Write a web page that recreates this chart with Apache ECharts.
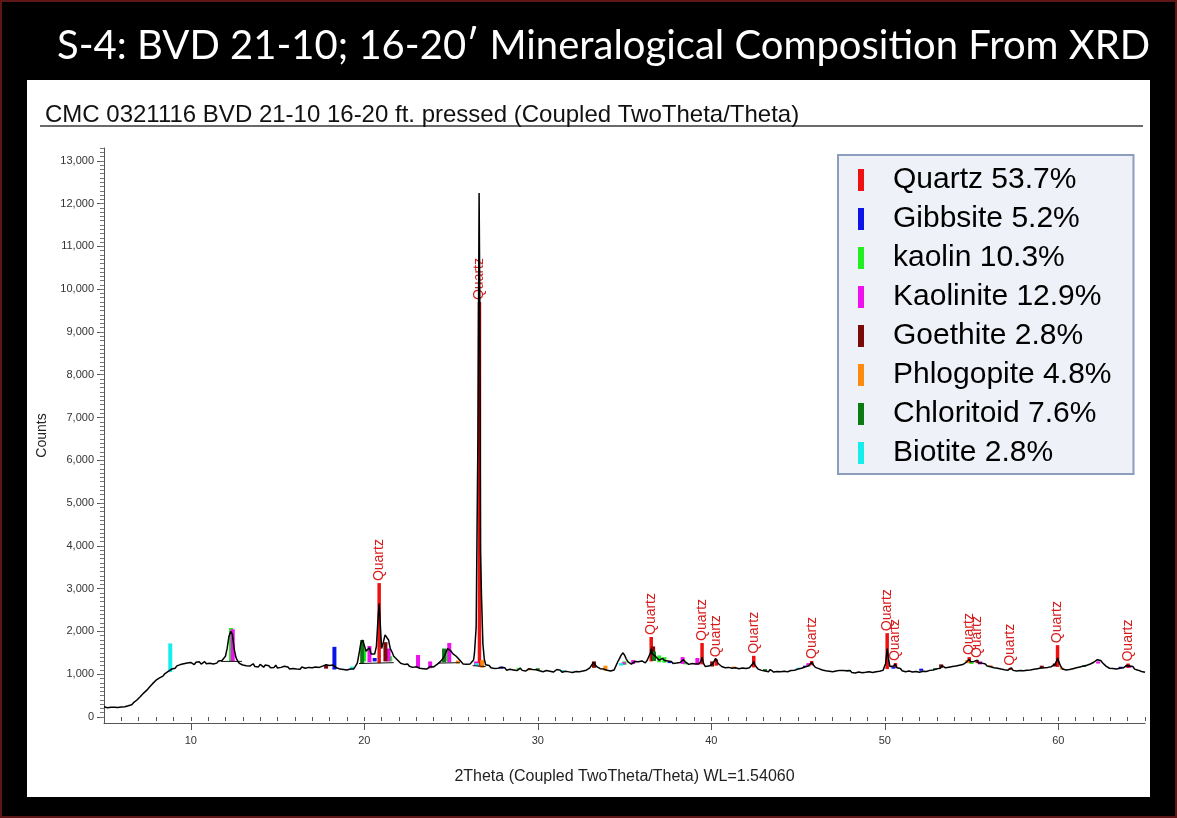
<!DOCTYPE html>
<html>
<head>
<meta charset="utf-8">
<script src="https://cdn.jsdelivr.net/npm/echarts@6/dist/echarts.min.js"></script>
<style>
  html, body { margin: 0; padding: 0; background: #000; }
  #chart { width: 1177px; height: 818px; }
</style>
</head>
<body>
<div id="chart"></div>
<script>
// Measured diffraction pattern: [2Theta (deg), counts]
const pattern = [
  [5.0,240],[5.1,232],[5.2,218],[5.3,236],[5.4,226],[5.5,212],[5.6,228],[5.7,208],[5.8,224],[5.9,215],
  [6.0,232],[6.1,246],[6.2,238],[6.3,270],[6.4,262],[6.5,298],[6.6,288],[6.7,335],[6.8,352],[6.9,398],
  [7.0,420],[7.1,478],[7.2,502],[7.3,565],[7.4,598],[7.5,640],[7.6,690],[7.7,712],[7.8,780],[7.9,805],
  [8.0,860],[8.1,880],[8.2,915],[8.3,960],[8.4,955],[8.5,1010],[8.6,1030],[8.7,1065],[8.8,1090],[8.9,1120],
  [9.0,1155],[9.1,1140],[9.2,1195],[9.3,1170],[9.4,1225],[9.5,1200],[9.6,1245],[9.7,1210],[9.8,1260],[9.9,1230],
  [10.0,1275],[10.1,1240],[10.2,1225],[10.3,1280],[10.4,1250],[10.5,1290],[10.6,1235],[10.7,1270],[10.8,1295],[10.9,1245],
  [11.0,1280],[11.1,1255],[11.2,1300],[11.3,1240],[11.4,1285],[11.5,1260],[11.6,1310],[11.7,1270],[11.8,1320],[11.9,1345],
  [12.0,1420],[12.1,1610],[12.2,1880],[12.3,2000],[12.4,1930],[12.5,1600],[12.6,1400],[12.7,1310],[12.8,1255],[12.9,1280],
  [13.0,1215],[13.1,1250],[13.2,1200],[13.3,1235],[13.4,1190],[13.5,1225],[13.6,1245],[13.7,1180],[13.8,1210],[13.9,1170],
  [14.0,1230],[14.1,1185],[14.2,1165],[14.3,1215],[14.4,1175],[14.5,1200],[14.6,1150],[14.7,1195],[14.8,1160],[14.9,1210],
  [15.0,1145],[15.1,1180],[15.2,1160],[15.3,1130],[15.4,1185],[15.5,1140],[15.6,1170],[15.7,1120],[15.8,1165],[15.9,1135],
  [16.0,1175],[16.1,1120],[16.2,1150],[16.3,1115],[16.4,1170],[16.5,1125],[16.6,1140],[16.7,1105],[16.8,1160],[16.9,1130],
  [17.0,1150],[17.1,1115],[17.2,1170],[17.3,1135],[17.4,1160],[17.5,1145],[17.6,1190],[17.7,1170],[17.8,1220],[17.9,1180],
  [18.0,1205],[18.1,1165],[18.2,1215],[18.3,1180],[18.4,1150],[18.5,1170],[18.6,1120],[18.7,1155],[18.8,1110],[18.9,1145],
  [19.0,1100],[19.1,1135],[19.2,1120],[19.3,1150],[19.4,1125],[19.5,1170],[19.6,1260],[19.7,1480],[19.8,1720],[19.9,1800],
  [20.0,1680],[20.1,1540],[20.2,1580],[20.3,1620],[20.4,1470],[20.5,1430],[20.6,1470],[20.7,1650],[20.8,2350],[20.86,2650],
  [20.92,2200],[21.0,1600],[21.1,1750],[21.2,1920],[21.3,1950],[21.4,1800],[21.5,1600],[21.6,1520],[21.7,1420],[21.8,1380],
  [21.9,1340],[22.0,1300],[22.1,1255],[22.2,1285],[22.3,1230],[22.4,1215],[22.5,1240],[22.6,1185],[22.7,1210],[22.8,1160],
  [22.9,1195],[23.0,1175],[23.1,1200],[23.2,1140],[23.3,1160],[23.4,1130],[23.5,1175],[23.6,1120],[23.7,1150],[23.8,1180],
  [23.9,1145],[24.0,1170],[24.1,1200],[24.2,1230],[24.3,1270],[24.4,1300],[24.5,1350],[24.6,1410],[24.7,1500],[24.8,1600],
  [24.9,1620],[25.0,1540],[25.1,1480],[25.2,1450],[25.3,1420],[25.4,1390],[25.5,1330],[25.6,1290],[25.7,1240],[25.8,1210],
  [25.9,1235],[26.0,1200],[26.1,1240],[26.2,1265],[26.3,1330],[26.35,1480],[26.45,2100],[26.55,6500],[26.62,12250],[26.66,9800],
  [26.7,3900],[26.76,2800],[26.84,1700],[26.92,1350],[27.0,1220],[27.1,1180],[27.2,1205],[27.3,1150],[27.4,1185],[27.5,1135],
  [27.6,1170],[27.7,1140],[27.8,1110],[27.9,1160],[28.0,1125],[28.1,1150],[28.2,1095],[28.3,1140],[28.4,1115],[28.5,1160],
  [28.6,1100],[28.7,1130],[28.8,1085],[28.9,1125],[29.0,1140],[29.1,1090],[29.2,1120],[29.3,1075],[29.4,1115],[29.5,1130],
  [29.6,1085],[29.7,1110],[29.8,1065],[29.9,1105],[30.0,1125],[30.1,1080],[30.2,1110],[30.3,1060],[30.4,1100],[30.5,1085],
  [30.6,1120],[30.7,1070],[30.8,1095],[30.9,1050],[31.0,1090],[31.1,1110],[31.2,1065],[31.3,1095],[31.4,1045],[31.5,1085],
  [31.6,1070],[31.7,1100],[31.8,1055],[31.9,1080],[32.0,1040],[32.1,1085],[32.2,1065],[32.3,1100],[32.4,1060],[32.5,1090],
  [32.6,1075],[32.7,1105],[32.8,1095],[32.9,1130],[33.0,1150],[33.1,1190],[33.2,1270],[33.3,1240],[33.4,1180],[33.5,1150],
  [33.6,1130],[33.7,1105],[33.8,1120],[33.9,1080],[34.0,1095],[34.1,1060],[34.2,1075],[34.3,1040],[34.4,1100],[34.5,1190],
  [34.6,1280],[34.7,1360],[34.8,1440],[34.9,1500],[35.0,1450],[35.1,1360],[35.2,1290],[35.3,1250],[35.4,1235],[35.5,1280],
  [35.6,1300],[35.7,1260],[35.8,1290],[35.9,1250],[36.0,1310],[36.1,1280],[36.2,1265],[36.3,1320],[36.4,1340],[36.5,1500],
  [36.54,1600],[36.6,1480],[36.7,1450],[36.8,1410],[36.9,1380],[37.0,1330],[37.1,1360],[37.2,1370],[37.3,1320],[37.4,1290],
  [37.5,1310],[37.6,1270],[37.7,1300],[37.8,1250],[37.9,1280],[38.0,1260],[38.1,1230],[38.2,1275],[38.3,1300],[38.4,1340],
  [38.5,1290],[38.6,1250],[38.7,1230],[38.8,1205],[38.9,1250],[39.0,1220],[39.1,1240],[39.2,1195],[39.3,1245],[39.4,1300],
  [39.47,1400],[39.55,1260],[39.65,1180],[39.75,1150],[39.85,1190],[39.95,1170],[40.05,1230],[40.15,1290],[40.25,1370],[40.3,1380],
  [40.4,1250],[40.5,1215],[40.6,1180],[40.7,1200],[40.8,1150],[40.9,1185],[41.0,1160],[41.1,1195],[41.2,1140],[41.3,1175],
  [41.4,1150],[41.5,1185],[41.6,1130],[41.7,1160],[41.8,1145],[41.9,1180],[42.0,1135],[42.1,1170],[42.2,1150],[42.3,1185],
  [42.4,1250],[42.45,1300],[42.5,1230],[42.6,1170],[42.7,1120],[42.8,1140],[42.9,1090],[43.0,1120],[43.1,1075],[43.2,1105],
  [43.3,1060],[43.4,1110],[43.5,1085],[43.6,1050],[43.7,1095],[43.8,1065],[43.9,1100],[44.0,1060],[44.1,1090],[44.2,1070],
  [44.3,1105],[44.4,1060],[44.5,1100],[44.6,1085],[44.7,1120],[44.8,1095],[44.9,1135],[45.0,1120],[45.1,1160],[45.2,1140],
  [45.3,1180],[45.4,1170],[45.5,1205],[45.6,1195],[45.7,1230],[45.79,1280],[45.9,1210],[46.0,1160],[46.1,1180],[46.2,1130],
  [46.3,1150],[46.4,1100],[46.5,1125],[46.6,1080],[46.7,1115],[46.8,1070],[46.9,1100],[47.0,1060],[47.1,1095],[47.2,1075],
  [47.3,1040],[47.4,1090],[47.5,1060],[47.6,1085],[47.7,1045],[47.8,1080],[47.9,1055],[48.0,1090],[48.1,1040],[48.2,1075],
  [48.3,1030],[48.4,1070],[48.5,1050],[48.6,1085],[48.7,1035],[48.8,1075],[48.9,1045],[49.0,1080],[49.1,1060],[49.2,1095],
  [49.3,1040],[49.4,1085],[49.5,1060],[49.6,1100],[49.7,1070],[49.8,1110],[49.9,1090],[50.0,1130],[50.05,1250],[50.14,1600],
  [50.22,1350],[50.3,1180],[50.4,1140],[50.5,1190],[50.6,1240],[50.7,1150],[50.8,1110],[50.9,1135],[51.0,1080],[51.1,1120],
  [51.2,1060],[51.3,1100],[51.4,1075],[51.5,1110],[51.6,1050],[51.7,1090],[51.8,1065],[51.9,1100],[52.0,1045],[52.1,1085],
  [52.2,1070],[52.3,1105],[52.4,1065],[52.5,1100],[52.6,1090],[52.7,1130],[52.8,1100],[52.9,1140],[53.0,1125],[53.1,1160],
  [53.2,1140],[53.3,1200],[53.4,1180],[53.5,1150],[53.6,1185],[53.7,1165],[53.8,1200],[53.9,1180],[54.0,1215],[54.1,1190],
  [54.2,1230],[54.3,1210],[54.4,1245],[54.5,1225],[54.6,1265],[54.7,1280],[54.8,1320],[54.87,1350],[54.95,1290],[55.05,1270],
  [55.15,1300],[55.25,1320],[55.33,1330],[55.4,1260],[55.5,1240],[55.6,1260],[55.7,1215],[55.8,1240],[55.9,1190],[56.0,1220],
  [56.1,1175],[56.2,1200],[56.3,1150],[56.4,1180],[56.5,1140],[56.6,1170],[56.7,1120],[56.8,1150],[56.9,1105],[57.0,1135],
  [57.1,1095],[57.2,1130],[57.3,1150],[57.4,1090],[57.5,1115],[57.6,1075],[57.7,1110],[57.8,1085],[57.9,1120],[58.0,1080],
  [58.1,1110],[58.2,1095],[58.3,1130],[58.4,1100],[58.5,1140],[58.6,1115],[58.7,1150],[58.8,1130],[58.9,1170],[59.0,1145],
  [59.1,1175],[59.2,1150],[59.3,1185],[59.4,1160],[59.5,1195],[59.6,1175],[59.7,1210],[59.8,1230],[59.9,1300],[59.96,1380],
  [60.05,1270],[60.15,1180],[60.25,1120],[60.35,1080],[60.45,1100],[60.55,1070],[60.65,1110],[60.75,1090],[60.85,1130],[60.95,1110],
  [61.05,1150],[61.15,1135],[61.25,1170],[61.35,1150],[61.45,1190],[61.55,1170],[61.65,1210],[61.75,1200],[61.85,1240],[61.95,1250],
  [62.05,1280],[62.15,1310],[62.25,1340],[62.35,1370],[62.45,1320],[62.55,1270],[62.65,1230],[62.75,1190],[62.85,1160],[62.95,1140],
  [63.05,1170],[63.15,1135],[63.25,1160],[63.35,1120],[63.45,1165],[63.55,1140],[63.65,1175],[63.75,1150],[63.85,1190],[63.95,1210],
  [64.03,1240],[64.1,1190],[64.2,1160],[64.3,1180],[64.4,1120],[64.5,1140],[64.6,1095],[64.7,1110],[64.8,1065],[64.9,1080],
  [65.0,1045]
];

// Fitted background segments under the main reflections: [x1, y1, x2, y2]
const backgroundSegments = [
  [11.75, 1300, 12.95, 1300],
  [19.7, 1250, 21.7, 1270],
  [24.3, 1260, 25.5, 1270],
  [26.25, 1200, 27.0, 1180]
];

// Reference sticks per phase: [2Theta, stick base, stick top]
const quartzSticks = [
  [20.86,1260,3130],[26.64,1180,9700],[36.54,1300,1870],[39.47,1230,1730],[40.29,1200,1350],
  [42.45,1160,1430],[45.79,1210,1310],[50.14,1120,1960],[50.62,1150,1260],[54.87,1260,1400],
  [55.33,1260,1330],[57.24,1100,1150],[59.96,1170,1680],[64.03,1150,1250]
];
const gibbsiteSticks = [
  [18.28,1110,1640],[20.6,1300,1380],[27.9,1130,1180],[37.6,1260,1300],[45.4,1170,1200],
  [50.5,1130,1180],[52.1,1080,1130],[63.6,1140,1175]
];
const kaolinSticks = [
  [12.32,1300,2080],[20.0,1300,1600],[21.5,1300,1420],[24.7,1300,1560],[28.9,1110,1150],
  [35.0,1220,1300],[37.0,1280,1440],[37.3,1270,1400],[38.5,1230,1290],[45.6,1180,1230],[55.0,1240,1280]
];
const kaoliniteSticks = [
  [12.42,1300,2050],[20.3,1280,1660],[21.4,1300,1600],[23.1,1150,1450],[23.8,1140,1300],
  [24.9,1280,1730],[26.45,1200,1300],[34.95,1230,1280],[35.5,1240,1330],[38.35,1240,1400],
  [39.2,1220,1380],[45.6,1190,1260],[55.5,1230,1300],[62.3,1250,1300],[64.1,1150,1200]
];
const goethiteSticks = [
  [17.8,1130,1210],[21.22,1300,1750],[33.24,1150,1300],[36.65,1320,1650],[40.05,1180,1300],
  [53.25,1150,1230],[59.05,1140,1200],[59.8,1180,1250],[64.0,1160,1220]
];
const phlogopiteSticks = [
  [25.4,1250,1320],[26.8,1150,1330],[29.5,1090,1130],[33.9,1080,1200],[41.3,1140,1180],
  [54.75,1260,1330],[56.1,1180,1210],[60.2,1110,1150]
];
const chloritoidSticks = [
  [19.88,1250,1800],[24.6,1280,1600],[30.0,1100,1140],[36.7,1310,1530],[43.1,1080,1120],
  [47.9,1060,1100],[52.9,1100,1140],[61.5,1170,1200]
];
const biotiteSticks = [
  [8.82,1050,1720],[19.3,1110,1180],[26.5,1190,1260],[31.4,1060,1100],[34.8,1200,1260],[45.0,1120,1150]
];

const phaseNames = [
  'Quartz 53.7%', 'Gibbsite 5.2%', 'kaolin 10.3%', 'Kaolinite 12.9%',
  'Goethite 2.8%', 'Phlogopite 4.8%', 'Chloritoid 7.6%', 'Biotite 2.8%'
];
const phaseSticks = [
  quartzSticks, gibbsiteSticks, kaolinSticks, kaoliniteSticks,
  goethiteSticks, phlogopiteSticks, chloritoidSticks, biotiteSticks
];
const phaseColors = ['#ee1111', '#0a14e6', '#22ee22', '#ee11ee', '#7a0a0a', '#ff8a10', '#0a7a12', '#16eeee'];
const peakLabel = 'Quartz';

const yTickLabels = [0,1000,2000,3000,4000,5000,6000,7000,8000,9000,10000,11000,12000,13000];
const xTickLabels = [10, 20, 30, 40, 50, 60];

// Minor tick positions
const yMinorTicks = [];
for (let v = 0; v <= 13300; v += 100) yMinorTicks.push(v);
const xMinorTicks = [];
for (let v = 5; v <= 65; v += 1) xMinorTicks.push(v);

const FONT = '"Liberation Sans", Arial, sans-serif';
const Y_MIN = -140, Y_MAX = 13300, X_MIN = 5, X_MAX = 65;

function stickRenderer(color, width, label) {
  return function (params, api) {
    const x = api.value(0);
    const p0 = api.coord([x, api.value(1)]);
    const p1 = api.coord([x, api.value(2)]);
    const children = [{
      type: 'rect',
      shape: { x: p0[0] - width / 2, y: p1[1], width: width, height: p0[1] - p1[1] },
      style: { fill: color }
    }];
    if (label) {
      children.push({
        type: 'text',
        x: p0[0], y: p1[1] - 2,
        rotation: Math.PI / 2,
        style: { text: label, fill: '#d81c1c', font: '14px ' + FONT, align: 'left', verticalAlign: 'middle' }
      });
    }
    return { type: 'group', children: children };
  };
}

const stickSeries = phaseNames.map(function (name, i) {
  return {
    name: name,
    type: 'custom',
    xAxisIndex: 0, yAxisIndex: 0,
    z: 2,
    itemStyle: { color: phaseColors[i] },
    renderItem: stickRenderer(phaseColors[i], i === 0 ? 3.5 : 4, i === 0 ? peakLabel : null),
    data: phaseSticks[i]
  };
});

const chart = echarts.init(document.getElementById('chart'));
chart.setOption({
  animation: false,
  backgroundColor: '#000',
  title: [
    {
      text: 'S-4: BVD 21-10; 16-20\u2032 Mineralogical Composition From XRD',
      left: 52, top: 21,
      textStyle: { color: '#fff', fontSize: 40, fontWeight: 'normal', fontFamily: 'Lato, sans-serif' }
    },
    {
      text: 'CMC 0321116 BVD 21-10 16-20 ft. pressed (Coupled TwoTheta/Theta)',
      left: 40, top: 98,
      textStyle: { color: '#111', fontSize: 24, fontWeight: 'normal', fontFamily: FONT }
    }
  ],
  graphic: [
    { type: 'rect', z: -100, shape: { x: 1, y: 1, width: 1175, height: 816 },
      style: { fill: 'none', stroke: '#5e1616', lineWidth: 2 } },
    { type: 'rect', z: -100, shape: { x: 27, y: 80, width: 1123, height: 717 }, style: { fill: '#fff' } },
    { type: 'line', z: -90, shape: { x1: 40, y1: 126, x2: 1143, y2: 126 }, style: { stroke: '#6a6a6a', lineWidth: 2 } }
  ],
  legend: {
    orient: 'vertical',
    left: 838, top: 155,
    data: phaseNames,
    selectedMode: false,
    icon: 'rect',
    itemWidth: 6, itemHeight: 22, itemGap: 9,
    backgroundColor: '#eef1f7',
    borderColor: '#8d9dbd', borderWidth: 2,
    padding: [10, 22, 6, 20],
    textStyle: { fontSize: 30, lineHeight: 30, color: '#000', fontFamily: FONT, padding: [0, 0, 0, 24] }
  },
  grid: { left: 104, right: 32, top: 148, bottom: 95 },
  xAxis: [
    {
      type: 'value', min: X_MIN, max: X_MAX, position: 'bottom',
      name: '2Theta (Coupled TwoTheta/Theta) WL=1.54060',
      nameLocation: 'middle', nameGap: 46,
      nameTextStyle: { fontSize: 16, color: '#222', fontFamily: FONT },
      axisLine: { show: true, onZero: false, lineStyle: { color: '#555', width: 1 } },
      axisTick: { show: true, customValues: xTickLabels, length: 7, lineStyle: { color: '#555' } },
      axisLabel: { customValues: xTickLabels, fontSize: 11, color: '#333', fontFamily: FONT, margin: 12 },
      splitLine: { show: false }
    },
    {
      type: 'value', min: X_MIN, max: X_MAX, position: 'bottom', offset: 0,
      axisLine: { show: false },
      axisTick: { show: true, customValues: xMinorTicks, length: 4, lineStyle: { color: '#555' } },
      axisLabel: { show: false },
      splitLine: { show: false }
    }
  ],
  yAxis: [
    {
      type: 'value', min: Y_MIN, max: Y_MAX, position: 'left', offset: 0,
      name: 'Counts', nameLocation: 'middle', nameGap: 40, nameRotate: 90,
      nameTextStyle: { fontSize: 14, color: '#222', fontFamily: FONT },
      axisLine: { show: true, onZero: false, lineStyle: { color: '#555', width: 1 } },
      axisTick: { show: true, customValues: yTickLabels, length: 7, lineStyle: { color: '#555' } },
      axisLabel: {
        customValues: yTickLabels, fontSize: 11, color: '#333', fontFamily: FONT, margin: 10,
        formatter: function (v) { return v.toLocaleString('en-US'); }
      },
      splitLine: { show: false }
    },
    {
      type: 'value', min: Y_MIN, max: Y_MAX, position: 'left', offset: 0,
      axisLine: { show: false },
      axisTick: { show: true, customValues: yMinorTicks, length: 4, lineStyle: { color: '#777' } },
      axisLabel: { show: false },
      splitLine: { show: false }
    }
  ],
  series: stickSeries.concat([
    {
      name: 'background',
      type: 'custom',
      z: 3,
      renderItem: function (params, api) {
        const a = api.coord([api.value(0), api.value(1)]);
        const b = api.coord([api.value(2), api.value(3)]);
        return { type: 'line', shape: { x1: a[0], y1: a[1], x2: b[0], y2: b[1] }, style: { stroke: '#111', lineWidth: 1 } };
      },
      data: backgroundSegments
    },
    {
      name: 'pattern',
      type: 'line',
      z: 4,
      showSymbol: false,
      symbol: 'none',
      lineStyle: { color: '#000', width: 1.5 },
      data: pattern
    }
  ])
});
</script>
</body>
</html>
